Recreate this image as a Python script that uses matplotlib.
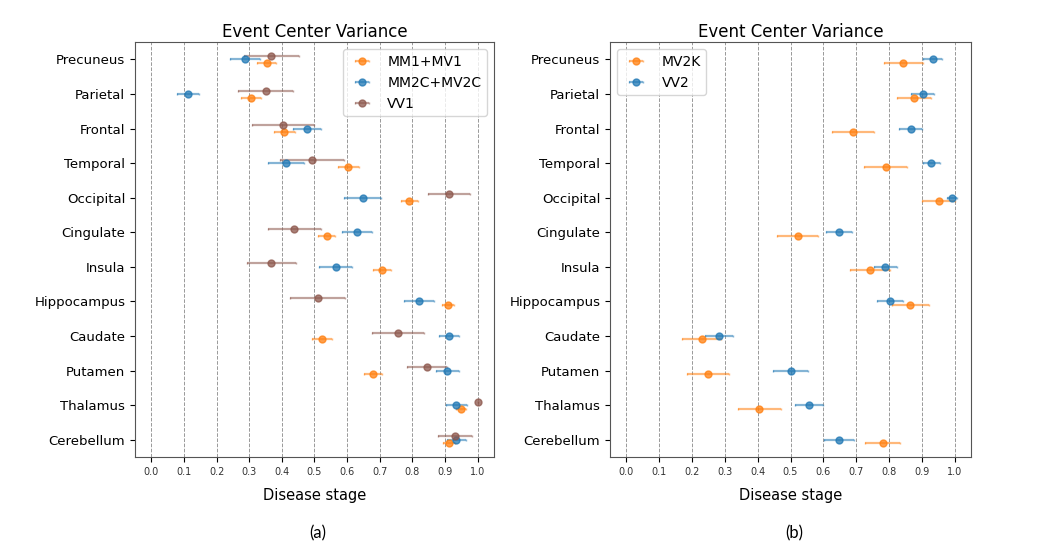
import numpy as np
import matplotlib
matplotlib.use("Agg")
import matplotlib.pyplot as plt

regions = ["Precuneus", "Parietal", "Frontal", "Temporal", "Occipital", "Cingulate",
           "Insula", "Hippocampus", "Caudate", "Putamen", "Thalamus", "Cerebellum"]

# panel (a)
mm1_mean = [0.353, 0.305, 0.408, 0.604, 0.790, 0.537, 0.706, 0.909, 0.524, 0.679, 0.949, 0.912]
mm1_err = [0.029, 0.031, 0.032, 0.033, 0.026, 0.027, 0.028, 0.019, 0.031, 0.028, 0.016, 0.019]
mm2c_mean = [0.287, 0.112, 0.477, 0.413, 0.648, 0.631, 0.565, 0.819, 0.912, 0.907, 0.935, 0.935]
mm2c_err = [0.047, 0.034, 0.042, 0.054, 0.057, 0.046, 0.050, 0.046, 0.032, 0.035, 0.031, 0.028]
vv1_mean = [0.368, 0.350, 0.404, 0.491, 0.912, 0.438, 0.368, 0.510, 0.756, 0.844, 1.000, 0.930]
vv1_err = [0.084, 0.084, 0.094, 0.098, 0.065, 0.081, 0.075, 0.085, 0.081, 0.062, 0.0, 0.052]

# panel (b)
mv2k_mean = [0.844, 0.877, 0.689, 0.790, 0.951, 0.522, 0.741, 0.865, 0.229, 0.249, 0.405, 0.781]
mv2k_err = [0.059, 0.052, 0.064, 0.065, 0.050, 0.062, 0.061, 0.057, 0.060, 0.064, 0.065, 0.053]
vv2_mean = [0.933, 0.903, 0.867, 0.929, 0.992, 0.648, 0.788, 0.802, 0.282, 0.500, 0.557, 0.648]
vv2_err = [0.030, 0.035, 0.035, 0.026, 0.014, 0.040, 0.035, 0.040, 0.044, 0.053, 0.043, 0.045]

ORANGE = "#ff7f0e"
BLUE = "#1f77b4"
BROWN = "#8c564b"

fig = plt.figure(figsize=(10.58, 5.48), dpi=100)
ax1 = fig.add_axes([0.1276, 0.166, 0.3393, 0.757])
ax2 = fig.add_axes([0.5766, 0.166, 0.3412, 0.757])

y = np.arange(len(regions))


def draw(ax, series):
    for mean, err, offset, color, label in series:
        cont = ax.errorbar(mean, y + offset, xerr=err, fmt="o", color=color, ms=5,
                           elinewidth=1.6, capsize=1, alpha=0.75, label=label)
        for c in cont[2]:
            c.set_alpha(0.55)
        for c in cont[1]:
            c.set_alpha(0.55)
    ax.set_yticks(y)
    ax.set_yticklabels(regions, fontsize=9.5)
    ax.set_ylim(len(regions) - 0.5, -0.5)
    ax.set_xlim(-0.05, 1.05)
    ax.set_xticks(np.arange(0, 1.01, 0.1))
    ax.set_xticklabels([f"{v:.1f}" for v in np.arange(0, 1.01, 0.1)], fontsize=7,
                       color="#333333")
    ax.grid(axis="x", linestyle="--", color="#999999", linewidth=0.7)
    ax.set_axisbelow(True)
    ax.set_title("Event Center Variance", fontsize=12, pad=4)
    ax.set_xlabel("Disease stage", fontsize=10.5, labelpad=8)
    for s in ax.spines.values():
        s.set_color("#555555")


draw(ax1, [(mm1_mean, mm1_err, 0.1, ORANGE, "MM1+MV1"),
           (mm2c_mean, mm2c_err, 0.0, BLUE, "MM2C+MV2C"),
           (vv1_mean, vv1_err, -0.1, BROWN, "VV1")])
ax1.legend(loc="upper right", fontsize=10)

draw(ax2, [(mv2k_mean, mv2k_err, 0.1, ORANGE, "MV2K"),
           (vv2_mean, vv2_err, 0.0, BLUE, "VV2")])
ax2.legend(loc="upper left", fontsize=10)

fig.text(0.300, 0.018, "(a)", fontsize=12, family="Lato", ha="center")
fig.text(0.751, 0.018, "(b)", fontsize=12, family="Lato", ha="center")

fig.savefig("out.png", dpi=100)
